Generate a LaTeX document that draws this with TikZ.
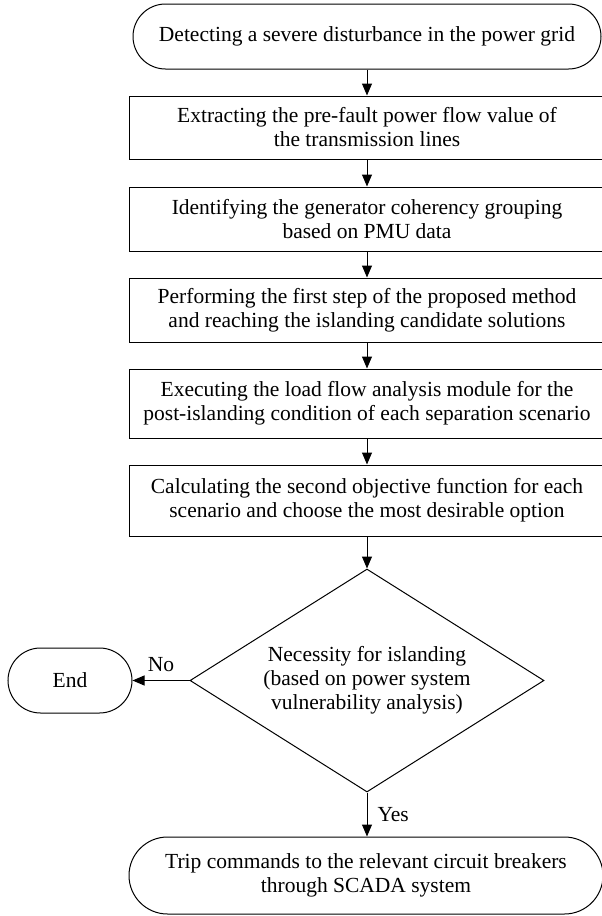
\documentclass[tikz,border=0pt]{standalone}
\usepackage{fontspec}
\setmainfont{Liberation Serif}
\usetikzlibrary{shapes.misc,shapes.geometric,arrows.meta}
\begin{document}
\begin{tikzpicture}[x=1pt,y=-1pt,line width=1pt,
  every node/.style={font=\fontsize{21.5}{24}\selectfont,align=center,inner sep=0pt},
  term/.style={draw,rounded rectangle},
  procbox/.style={draw,rectangle,minimum width=476pt},
  decbox/.style={draw,diamond,shape aspect=1.587,minimum width=354pt,minimum height=223pt},
  arr/.style={-{Triangle[length=12pt,width=10pt]}}]
\useasboundingbox (0,0) rectangle (602,916);
\node[term,minimum width=468pt,minimum height=65pt] (start) at (367,36.5) {Detecting a severe disturbance in the power grid};
\node[procbox,minimum height=63pt] (r1) at (367,127.5) {Extracting the pre-fault power flow value of\\the transmission lines};
\node[procbox,minimum height=64pt] (r2) at (367,219) {Identifying the generator coherency grouping\\based on PMU data};
\node[procbox,minimum height=64pt] (r3) at (367,310) {Performing the first step of the proposed method\\and reaching the islanding candidate solutions};
\node[procbox,minimum height=69pt] (r4) at (367,403.5) {Executing the load flow analysis module for the\\post-islanding condition of each separation scenario};
\node[procbox,minimum height=71pt] (r5) at (367,500.5) {Calculating the second objective function for each\\scenario and choose the most desirable option};
\node[decbox] (dec) at (367,680.5) {Necessity for islanding\\(based on power system\\vulnerability analysis)};
\node[term,minimum width=124pt,minimum height=65pt] (end) at (70,680.5) {End};
\node[term,minimum width=474pt,minimum height=77pt] (trip) at (366,875.5) {Trip commands to the relevant circuit breakers\\through SCADA system};
\draw[arr] (start) -- (r1);
\draw[arr] (r1) -- (r2);
\draw[arr] (r2) -- (r3);
\draw[arr] (r3) -- (r4);
\draw[arr] (r4) -- (r5);
\draw[arr] (r5) -- (dec);
\draw[arr] (dec.west) -- node[above=8pt] (no) {No} (end.east);
\draw[arr] (dec.south) -- node[right=10pt] (yes) {Yes} (dec.south |- trip.north);
\end{tikzpicture}
\end{document}
